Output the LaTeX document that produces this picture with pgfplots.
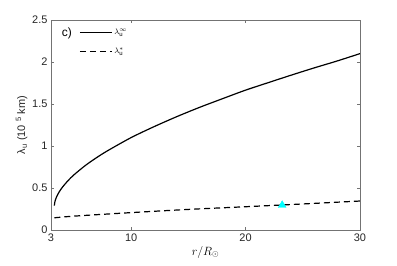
\documentclass[border=0pt]{standalone}
\usepackage{pgfplots}
\pgfplotsset{compat=1.18}
\usepackage{fontspec}
\setmainfont{Liberation Sans}

\definecolor{axgray}{gray}{0.45}
\definecolor{mcyan}{RGB}{0,255,255}

\begin{document}
\begin{tikzpicture}
\begin{axis}[
    scale only axis,
    width=309bp,
    height=210bp,
    xmin=3, xmax=30,
    ymin=0, ymax=2.5,
    xtick={3,10,20,30},
    ytick={0,0.5,1,1.5,2,2.5},
    tick align=inside,
    major tick length=3bp,
    axis line style={axgray},
    tick style={axgray},
    /pgf/number format/assume math mode=true,
    tick label style={font=\fontsize{11}{12}\selectfont, text=black!85},
    xlabel={$r/R_\odot$},
    xlabel style={font=\fontsize{12}{13}\selectfont, yshift=2bp},
    ylabel={λ\textsubscript{u} (10 \textsuperscript{5} km)},
    ylabel style={font=\fontsize{11}{12}\selectfont, text=black!85, yshift=-2bp},
    legend style={draw=none, fill=none, at={(axis cs:5.45,2.42)}, anchor=north west,
        font=\fontsize{8}{9}\selectfont, row sep=8bp, inner sep=0pt,
        /tikz/every even column/.append style={column sep=1bp}},
    legend cell align=left,
    legend image code/.code={\draw[#1] (0bp,0bp) -- (32bp,0bp);},
]
\addplot[black, line width=1.2bp, smooth] coordinates {
    (3.29,0.29) (3.35,0.342) (3.4,0.365) (3.5,0.398) (3.7,0.45)
    (4.0,0.51) (4.5,0.589) (5,0.656) (6,0.768) (7,0.863) (8,0.948)
    (10,1.10) (12,1.23) (14,1.35) (16,1.461) (18,1.564) (20,1.665)
    (22,1.755) (24,1.844) (26,1.93) (28,2.012) (30,2.10)
};
\addlegendentry{$\lambda_{\mathrm u}^{\infty}$}
\addplot[black, line width=1.2bp, dash pattern=on 6bp off 4bp, smooth] coordinates {
    (3.29,0.145) (5,0.165) (10,0.207) (15,0.245) (20,0.277) (25,0.31) (30,0.345)
};
\addlegendentry{$\lambda_{\mathrm u}^{*}$}
\addplot[only marks, mark=triangle*, mark size=4.5bp, color=mcyan, forget plot] coordinates {
    (23.2,0.295)
};
\node[anchor=west, font=\fontsize{12}{13}\selectfont] at (axis cs:3.65,2.34) {c)};
\end{axis}
\path ([xshift=-51bp,yshift=-36bp]current axis.south west) rectangle ([xshift=37bp,yshift=20bp]current axis.north east);
\end{tikzpicture}
\end{document}
